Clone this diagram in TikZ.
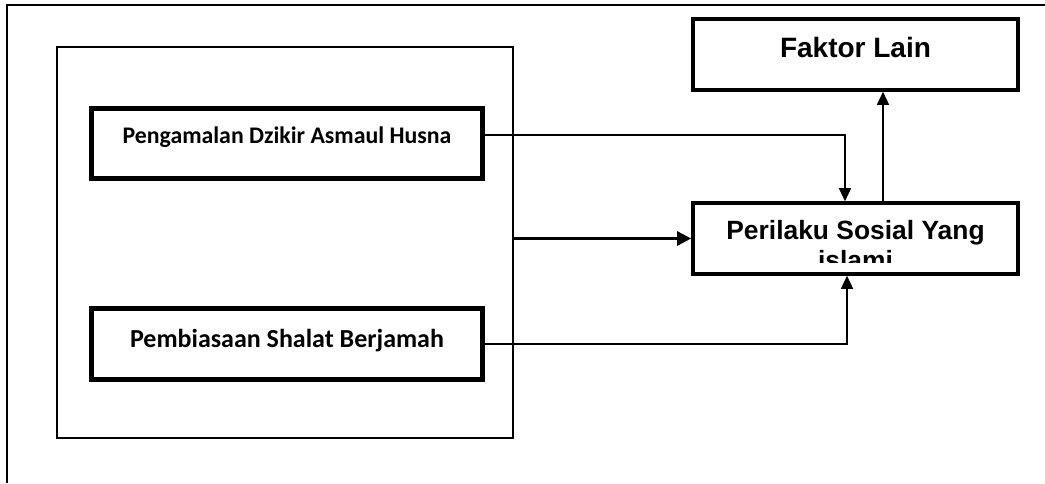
\documentclass[tikz,border=0pt]{standalone}
\usepackage{fontspec}
\usepackage{xcolor}
\usepackage{tikz}
\usetikzlibrary{arrows.meta}
\usetikzlibrary{calc}
\usetikzlibrary{positioning}
\newfontfamily\arialfont{Liberation Sans}
\newfontfamily\calibrifont{Carlito}

\begin{document}
\begin{tikzpicture}[x=1pt,y=-1pt,
	thinbox/.style={draw,line width=1.8pt,inner sep=0pt},
	thickbox/.style={draw,line width=4.5pt,inner sep=0pt,minimum width=391pt,minimum height=70pt},
	resultbox/.style={draw,line width=3.6pt,inner sep=0pt,minimum width=325pt,minimum height=71pt},
	link/.style={line width=1.6pt,-{Triangle[length=13pt,width=12pt]}},
	boldlink/.style={line width=2.6pt,-{Triangle[length=14pt,width=14pt]}},
	caltext/.style={inner sep=0pt,font=\calibrifont\bfseries},
	ariatext/.style={inner sep=0pt,font=\arialfont\bfseries}]
	
	\useasboundingbox (0,0) rectangle (1045,483);
	
	% frame
	\draw[line width=1.8pt] (7,483)--(7,5)--(1045,5);
	
	% left group
	\node [thinbox,minimum width=456pt,minimum height=391pt] (grup) at (285,242.5) {};
	\node [thickbox] (dzikir) at (287,143.5) {};
	\node [thickbox,minimum height=71pt] (shalat) at (287,344) {};
	\node [caltext,anchor=base] (dzikirtext) at (dzikir.center) {\fontsize{23.8}{28}\selectfont Pengamalan Dzikir Asmaul Husna};
	\node [caltext,anchor=base] (shalattext) at ([yshift=-3.4pt]shalat.center) {\fontsize{26}{30}\selectfont Pembiasaan Shalat Berjamah};
	
	% right side
	\node [resultbox] (faktor) at (855.5,54.5) {};
	\node [resultbox] (perilaku) at (855.5,238.5) {};
	\node [ariatext,anchor=base] (faktortext) at ([yshift=-2.5pt]faktor.center) {\fontsize{28}{32}\selectfont Faktor Lain};
	\node [ariatext,anchor=base] (perilakutext) at ([yshift=-1pt]perilaku.center) {\fontsize{26.4}{30}\selectfont Perilaku Sosial Yang};
	\begin{scope}
		\clip (693,203) rectangle (1018,262);
		\node [ariatext,anchor=base] (islamitext) at ([yshift=-30.5pt]perilaku.center) {\fontsize{26.4}{30}\selectfont islami};
	\end{scope}
	
	% connectors
	\draw[link] ([yshift=8.5pt]dzikir.east) -| ([xshift=-10.5pt]perilaku.north);
	\draw[link] ([xshift=27.5pt]perilaku.north) -- ([xshift=27.5pt]faktor.south);
	\draw[boldlink] (grup.east |- perilaku.west) -- (perilaku.west);
	\draw[link] (shalat.east) -| ([xshift=-8.5pt]perilaku.south);
	
\end{tikzpicture}
\end{document}
